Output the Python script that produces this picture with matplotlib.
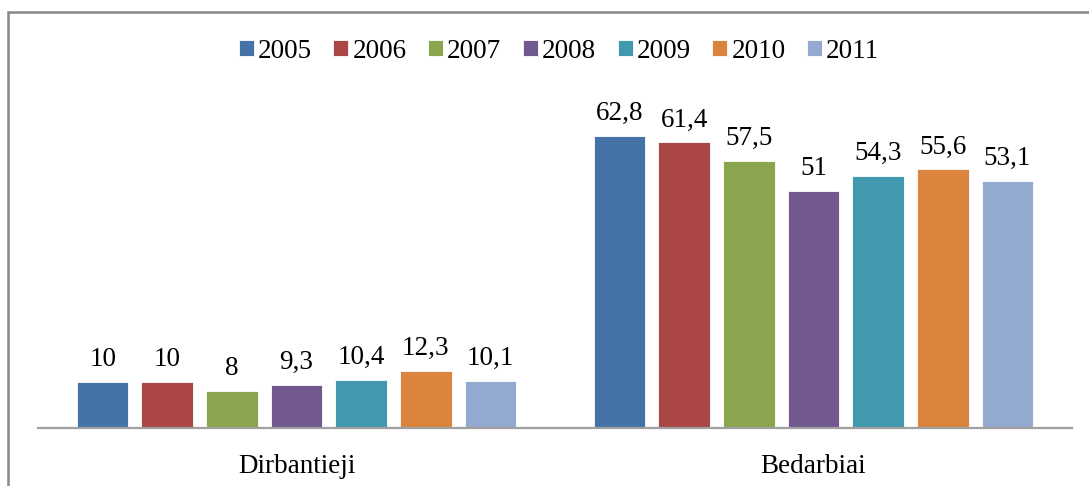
import matplotlib
matplotlib.use("Agg")
import matplotlib.pyplot as plt
from matplotlib.patches import Rectangle

categories = ["Dirbantieji", "Bedarbiai"]
years = ["2005", "2006", "2007", "2008", "2009", "2010", "2011"]
values = {
    "2005": [10, 62.8],
    "2006": [10, 61.4],
    "2007": [8, 57.5],
    "2008": [9.3, 51],
    "2009": [10.4, 54.3],
    "2010": [12.3, 55.6],
    "2011": [10.1, 53.1],
}
colors = ["#4572A7", "#AA4643", "#89A54E", "#71588F", "#4198AF", "#DB843D", "#93A9CF"]

plt.rcParams['font.family'] = ['Liberation Serif', 'DejaVu Serif']

W, H = 1089, 486
FS = 19.5
fig = plt.figure(figsize=(W / 100, H / 100), dpi=100)
ax = fig.add_axes([38 / W, 58 / H, (1072 - 38) / W, 325.5 / H])

step = 0.125
width = 0.1
for i, y in enumerate(years):
    xs = [c + (i - 3) * step for c in range(len(categories))]
    bars = ax.bar(xs, values[y], width=width, color=colors[i], label=y,
                  edgecolor='white', linewidth=0.6)
    for b, v in zip(bars, values[y]):
        lab = ("%g" % v).replace(".", ",")
        ax.annotate(lab, (b.get_x() + b.get_width() / 2, b.get_height()),
                    xytext=(0, 7), textcoords='offset points',
                    ha='center', va='bottom', fontsize=FS)

ax.set_xlim(-0.5, 1.5)
ax.set_ylim(0, 70)
ax.set_xticks(range(len(categories)))
ax.set_xticklabels(categories, fontsize=FS)
ax.tick_params(axis='x', length=0, pad=19)
ax.set_yticks([])
for s in ['top', 'right', 'left']:
    ax.spines[s].set_visible(False)
ax.spines['bottom'].set_color('#a0a0a0')
ax.spines['bottom'].set_linewidth(1.6)

leg = fig.legend(loc='center', bbox_to_anchor=(559 / W, 1 - 51 / H), ncol=7,
                 frameon=False, fontsize=FS, handlelength=0.55, handleheight=0.55,
                 handletextpad=0.15, columnspacing=0.8)

fig.patches.append(Rectangle((8 / W, -0.1), 1.2, 1 - 12 / H + 0.1,
                             transform=fig.transFigure, fill=False,
                             edgecolor='#888888', linewidth=1.8))

fig.savefig("out.png", dpi=100)
